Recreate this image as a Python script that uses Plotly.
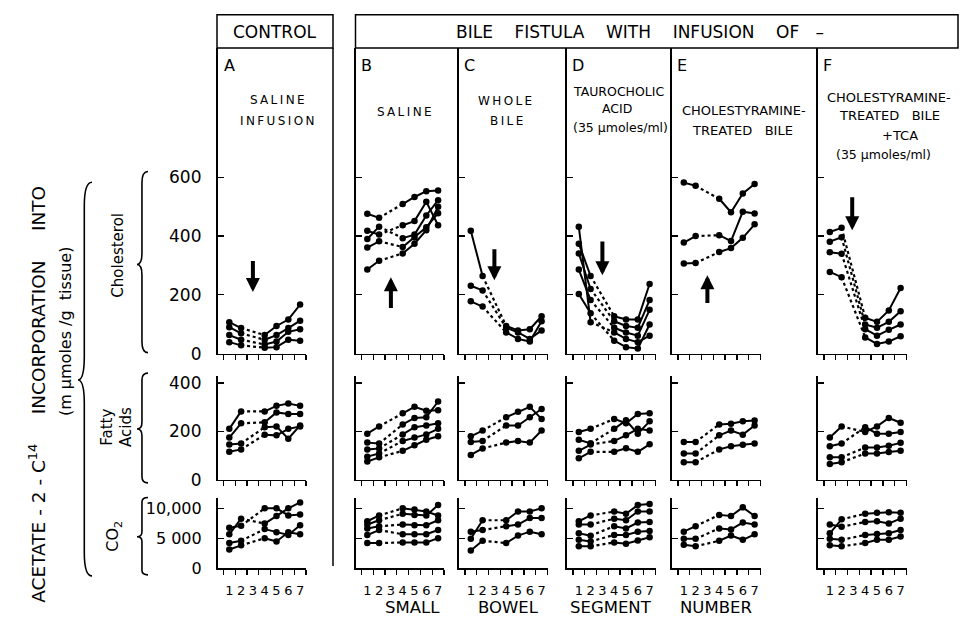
import plotly.graph_objects as go

W, H = 961, 628
FONT = "DejaVu Sans"

# ---------------- data ----------------
SEGMENTS = [1, 2, 3, 4, 5, 6, 7]
SEG_LABELS = ["1", "2", "3", "4", "5", "6", "7"]

# Cholesterol (m-umoles / g tissue); segment 3 not sampled
CHOL_A = [[107, 87, None, 63, 94, 116, 167], [90, 69, None, 47, 63, 87, 112],
          [63, 47, None, 31, 41, 74, 83], [39, 28, None, 20, 22, 47, 44]]
CHOL_B = [[476, 462, None, 509, 533, 553, 555], [418, 405, None, 437, 451, 517, 437],
          [390, 432, None, 393, 405, 470, 522], [361, 382, None, 363, 395, 430, 478],
          [286, 316, None, 341, 374, 420, 500]]
CHOL_C = [[418, 264, None, 94, 79, 83, 127], [231, 215, None, 88, 72, 50, 79],
          [178, 160, None, 72, 50, 41, 110]]
CHOL_D = [[432, 107, None, 72, 50, 39, 61], [374, 264, None, 127, 116, 116, 237],
          [341, 220, None, 110, 94, 88, 182], [286, 182, None, 88, 72, 61, 149],
          [203, 137, None, 44, 22, 17, 99]]
CHOL_E = [[582, 571, None, 527, 481, 545, 577], [378, 400, None, 403, 383, 483, 477],
          [307, 308, None, 346, 359, 394, 440]]
CHOL_F = [[414, 428, None, 122, 108, 147, 223], [381, 396, None, 99, 88, 108, 144],
          [345, 340, None, 83, 61, 81, 99], [278, 260, None, 55, 33, 41, 59]]

# Fatty acids
FAT_A = [[210, 282, None, 282, 305, 315, 305], [174, 233, None, 237, 278, 271, 271],
         [145, 149, None, 217, 220, 169, 224], [115, 125, None, 186, 183, 210, 220]]
FAT_B = [[190, 220, None, 274, 301, 285, 287], [153, 149, None, 228, 255, 258, 323],
         [125, 129, None, 187, 217, 224, 233], [95, 108, None, 160, 174, 187, 210],
         [75, 92, None, 119, 142, 165, 179]]
FAT_C = [[179, 203, None, 258, 281, 301, 251], [156, 160, None, 224, 224, 258, 292],
         [102, 129, None, 153, 160, 153, 203]]
FAT_D = [[197, 210, None, 251, 233, 271, 274], [165, 150, None, 210, 245, 190, 241],
         [119, 145, None, 160, 183, 210, 203], [88, 115, None, 115, 130, 115, 146]]
FAT_E = [[156, 156, None, 228, 231, 241, 244], [108, 108, None, 183, 203, 186, 224],
         [72, 72, None, 125, 138, 144, 149]]
FAT_F = [[174, 220, None, 197, 220, 255, 235], [138, 149, None, 217, 190, 190, 197],
         [92, 92, None, 133, 133, 140, 152], [65, 72, None, 108, 108, 114, 119]]

# CO2
CO2_A = [[6740, 7065, None, 10000, 10000, 8800, 8970], [5650, 8260, None, 7450, 8700, 10000, 10980],
         [4185, 4565, None, 6520, 5980, 5540, 7170], [3100, 3800, None, 5000, 4457, 6000, 5650]]
CO2_B = [[7830, 8800, None, 10000, 9780, 9460, 8800], [7280, 8000, None, 9080, 8900, 8800, 10540],
         [6630, 7000, None, 7280, 7170, 7170, 8000], [5540, 6360, None, 5650, 5650, 5650, 6360],
         [4185, 4185, None, 4290, 4290, 4290, 5000]]
CO2_C = [[4890, 8000, None, 8000, 9460, 9460, 10000], [6090, 6360, None, 7010, 7280, 8370, 8370],
         [2935, 4565, None, 4185, 5430, 6090, 5650]]
CO2_D = [[7830, 8800, None, 9460, 9080, 10540, 10700], [7280, 7280, None, 8260, 8000, 9460, 9460],
         [5815, 5400, None, 7010, 6630, 7610, 7720], [4730, 4457, None, 5540, 5540, 6090, 6200],
         [3640, 3640, None, 4290, 4076, 4620, 5160]]
CO2_E = [[6090, 7010, None, 8900, 8700, 10160, 8700], [4890, 4890, None, 6630, 6470, 7610, 7280],
         [3910, 3640, None, 4565, 5430, 4730, 5650]]
CO2_F = [[5815, 8150, None, 9080, 9240, 9350, 9240], [7280, 6900, None, 7720, 7830, 7450, 8260],
         [4890, 4730, None, 5540, 5700, 5815, 6360], [3800, 3640, None, 4185, 4730, 4730, 5270]]

CHOL_TICKS = [0, 200, 400, 600]
FAT_TICKS = [0, 200, 400]
CO2_TICKS = [0, 5000, 10000]
CO2_TICKTEXT = ["0", "5 000", "10,000"]

PANELS = ["A", "B", "C", "D", "E", "F"]
# time of infusion change (arrows): segment, tail value, tip value (cholesterol units)
ARROW_SEG = [3, 3, 3, 3, 3, 2.9]
ARROW_FROM = [320, 150, 360, 387, 167, 537]
ARROW_TO = [210, 260, 250, 267, 267, 420]

ROWS = [
    [CHOL_A, CHOL_B, CHOL_C, CHOL_D, CHOL_E, CHOL_F],
    [FAT_A, FAT_B, FAT_C, FAT_D, FAT_E, FAT_F],
    [CO2_A, CO2_B, CO2_C, CO2_D, CO2_E, CO2_F],
]

# ---------------- layout geometry (pixels -> paper) ----------------
def px(x):
    return x / W

def py(y):
    return 1 - y / H

THIN = "\u2009"

def spaced(s):
    # imitate the wide letter tracking of the original lettering
    return THIN.join(list(s)).replace(THIN + " " + THIN, "  ")

COL_X0 = [217.5, 355.5, 459, 567, 672, 818]
COL_W = 88.5
XRANGE = [0, 7.5]
ROW_GEOM = [  # top px, bottom px, y range
    (46, 358, [0, 1040]),
    (381, 486.7, [0, 428]),
    (505, 577, [0, 11800]),
]

fig = go.Figure()
layout = dict(width=W, height=H, margin=dict(l=0, r=0, t=0, b=0), autosize=False,
              paper_bgcolor="white", plot_bgcolor="white", showlegend=False,
              font=dict(family=FONT, color="black"))

annotations = []
shapes = []

for r, row in enumerate(ROWS):
    top, bot, yr = ROW_GEOM[r]
    for c, lines in enumerate(row):
        i = r * 6 + c + 1
        s = "" if i == 1 else str(i)
        xa, ya = "x" + s, "y" + s
        xaxis = dict(domain=[px(COL_X0[c]), px(COL_X0[c] + COL_W)], range=XRANGE,
                     anchor=ya, showline=True, linecolor="black", linewidth=1.6,
                     showgrid=False, zeroline=False, ticks="",
                     tickmode="array", tickvals=SEGMENTS, ticktext=SEG_LABELS,
                     showticklabels=(r == 2), tickfont=dict(size=13, family=FONT),
                     ticklabelstandoff=10,
                     minor=dict(tickmode="array", tickvals=[k + 0.5 for k in range(8)],
                                ticks="outside", ticklen=5, tickwidth=1.3,
                                tickcolor="black", showgrid=False))
        if r == 0:
            tv, tt = CHOL_TICKS, [str(v) for v in CHOL_TICKS]
        elif r == 1:
            tv, tt = FAT_TICKS, [str(v) for v in FAT_TICKS]
        else:
            tv, tt = CO2_TICKS, CO2_TICKTEXT
        yaxis = dict(domain=[py(bot), py(top)], range=yr, anchor=xa,
                     showline=True, linecolor="black", linewidth=1.6,
                     showgrid=False, zeroline=False, ticks="inside", ticklen=6,
                     tickwidth=1.3, tickcolor="black",
                     tickmode="array", tickvals=tv, ticktext=tt,
                     showticklabels=(c == 0),
                     tickfont=dict(size=17 if r < 2 else 16, family=FONT),
                     ticklabelstandoff=11)
        layout["xaxis" + s] = xaxis
        layout["yaxis" + s] = yaxis

        for vals in lines:
            fig.add_trace(go.Scatter(
                x=SEGMENTS, y=vals, xaxis=xa, yaxis=ya, mode="lines+markers",
                connectgaps=False, line=dict(color="black", width=2),
                marker=dict(color="black", size=6.5), hoverinfo="skip", cliponaxis=False))
            fig.add_trace(go.Scatter(
                x=[SEGMENTS[1], SEGMENTS[3]], y=[vals[1], vals[3]], xaxis=xa, yaxis=ya,
                mode="lines", line=dict(color="black", width=2.2, dash="3px,3px"),
                hoverinfo="skip"))

        if r == 0:
            annotations.append(dict(
                x=ARROW_SEG[c], y=ARROW_TO[c], ax=ARROW_SEG[c], ay=ARROW_FROM[c],
                xref=xa, yref=ya, axref=xa, ayref=ya, text="", showarrow=True,
                arrowhead=2, arrowsize=0.7, arrowwidth=4, arrowcolor="black", standoff=0))

# ---------------- header boxes and frame ----------------
line = dict(color="black", width=1.5)
shapes.append(dict(type="rect", xref="paper", yref="paper", x0=px(217), x1=px(333),
                   y0=py(46), y1=py(12), line=line))
shapes.append(dict(type="rect", xref="paper", yref="paper", x0=px(355.5), x1=px(958),
                   y0=py(46), y1=py(12), line=line))
shapes.append(dict(type="line", xref="paper", yref="paper", x0=px(333), x1=px(333),
                   y0=py(46), y1=py(575), line=line))


def txt(x, y, s, size=12, angle=0, xanchor="center"):
    annotations.append(dict(x=px(x), y=py(y), xref="paper", yref="paper", text=s,
                            showarrow=False, textangle=angle, xanchor=xanchor,
                            yanchor="middle", font=dict(size=size, family=FONT, color="black")))


txt(275, 30, "CONTROL", 17)
txt(640, 30, "BILE    FISTULA    WITH    INFUSION    OF   \u2013", 17)

LETTER_X = [222, 359, 462, 570, 675, 821]
for c, L in enumerate(PANELS):
    txt(LETTER_X[c], 64, L, 16, xanchor="left")

txt(277, 99, spaced("SALINE"), 12)
txt(277, 121, spaced("INFUSION"), 12)
txt(404, 111, spaced("SALINE"), 12)
txt(505, 100, spaced("WHOLE"), 12)
txt(506, 120, spaced("BILE"), 12)
txt(619, 90, "TAUROCHOLIC", 12.5)
txt(617, 108, "ACID", 12.5)
txt(620, 127, "(35 \u03bcmoles/ml)", 12.5)
txt(744, 110, "CHOLESTYRAMINE-", 13)
txt(742, 130, "TREATED   BILE", 13)
txt(889, 96, "CHOLESTYRAMINE-", 13)
txt(889, 115, "TREATED   BILE", 13)
txt(900, 135, "+TCA", 13)
txt(883, 155, "(35 \u03bcmoles/ml)", 12.5)

# bottom axis title
for x, wd in zip([412, 508, 611, 716], ["SMALL", "BOWEL", "SEGMENT", "NUMBER"]):
    txt(x, 617, wd, 16.5)

# left labels
txt(37, 400, "ACETATE - 2 - C<sup>14</sup>     INCORPORATION     INTO", 18.5, angle=-90)
txt(65, 335, "(m \u03bcmoles /g  tissue)", 16, angle=-90)
txt(118, 258, "Cholesterol", 15, angle=-90)
txt(117, 433, "Fatty<br>Acids", 15, angle=-90)
txt(114, 545, "CO<sub>2</sub>", 16, angle=-90)


def brace(xc, xe, yt, yb, ym):
    xb = xc + (xe - xc) * 0.45
    d1 = (ym - yt) * 0.12
    d2 = (yb - ym) * 0.12
    pts = [("M", [(xe, yt)]),
           ("Q", [(xb, yt), (xb, yt + d1)]),
           ("L", [(xb, ym - d1)]),
           ("Q", [(xb, ym), (xc, ym)]),
           ("Q", [(xb, ym), (xb, ym + d2)]),
           ("L", [(xb, yb - d2)]),
           ("Q", [(xb, yb), (xe, yb)])]
    path = " ".join(cmd + " " + " ".join(f"{px(x):.5f},{py(y):.5f}" for x, y in p)
                    for cmd, p in pts)
    shapes.append(dict(type="path", xref="paper", yref="paper", path=path,
                       line=dict(color="black", width=1.6)))


brace(78, 92, 183, 585, 385)
brace(137, 148, 172, 357, 267)
brace(137, 148, 378, 490, 435)
brace(137, 148, 505, 584, 545)

layout["annotations"] = annotations
layout["shapes"] = shapes
fig.update_layout(**layout)
fig.write_html(
    "out.html",
    config={"displayModeBar": False, "staticPlot": True},
    post_script=("document.documentElement.style.margin='0px';"
                 "document.body.style.margin='0px';document.body.style.padding='0px';"
                 "document.body.style.overflow='hidden';"
                 "document.documentElement.style.overflow='hidden';"))
